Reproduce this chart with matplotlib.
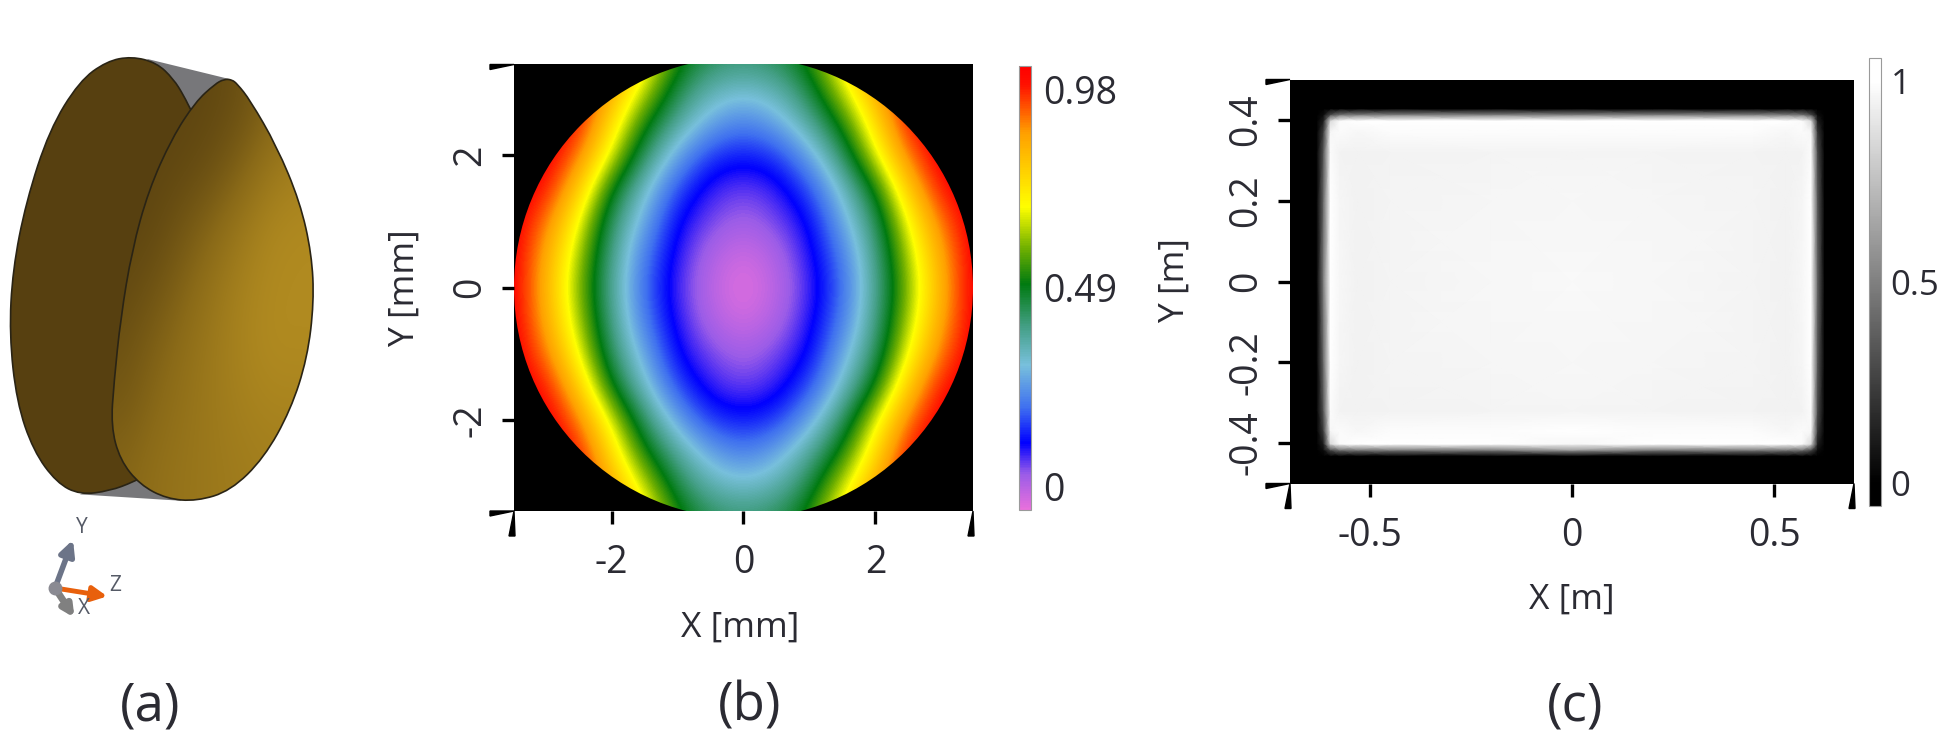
import numpy as np
import matplotlib
matplotlib.use("Agg")
import matplotlib.pyplot as plt
from matplotlib.colors import LinearSegmentedColormap, Normalize
from matplotlib.patches import Circle, PathPatch, Polygon
from matplotlib.path import Path

plt.rcParams['font.family'] = ['Open Sans', 'DejaVu Sans']

W, H = 1943, 731
TEXT = '#2b2b33'

# panel (a): outlines
dark_lobe = [(395, 66), (470, 82), (520, 122), (552, 165), (575, 205), (640, 300), (600, 600), (540, 900),
             (470, 1100), (400, 1130), (330, 1152), (240, 1162), (170, 1132),
             (100, 1052), (50, 930), (28, 760), (38, 600), (78, 430), (148, 250), (238, 128), (320, 78)]
gold_lobe = [(672, 123), (695, 124), (712, 135), (750, 175), (830, 290), (900, 430), (935, 560), (942, 680), (922, 820),
             (872, 950), (792, 1070), (692, 1152), (590, 1178), (500, 1172), (420, 1137), (360, 1075), (333, 990),
             (342, 880), (362, 720), (396, 550), (446, 400), (516, 270), (586, 180), (645, 135)]
gray_top = [(440, 72), (695, 124), (560, 215), (500, 110)]
gray_bottom = [(240, 1161), (400, 1090), (545, 1177)]
gold_shade = [[.05, .05, .05, .08, .18, .40, .55],
              [.05, .05, .08, .18, .40, .70, .85],
              [.05, .08, .25, .46, .72, .95, 1.0],
              [.10, .22, .42, .66, .88, 1.0, 1.0],
              [.20, .38, .56, .74, .90, 1.0, 1.0],
              [.30, .48, .62, .74, .84, .90, .90],
              [.45, .58, .66, .72, .78, .82, .82]]

# panel (b): values, y from -3.5 to 3.5, x from -3.5 to 3.5
map_x = [-3.5, -3, -2.5, -2, -1.5, -1, -.5, 0, .5, 1, 1.5, 2, 2.5, 3, 3.5]
map_y = [-3.5, -3, -2.5, -2, -1.5, -1, -.5, 0, .5, 1, 1.5, 2, 2.5, 3, 3.5]
map_values = [
    [1.03, 1.03, 1.03, .95, .74, .53, .44, .42, .44, .53, .74, .95, 1.03, 1.03, 1.03],
    [1.03, 1.03, 1.03, .85, .65, .45, .35, .32, .35, .45, .65, .85, 1.03, 1.03, 1.03],
    [1.03, 1.03, 1.00, .76, .52, .37, .265, .215, .265, .37, .52, .76, 1.00, 1.03, 1.03],
    [1.03, 1.03, .92, .66, .42, .26, .15, .125, .15, .26, .42, .66, .92, 1.03, 1.03],
    [1.03, 1.00, .80, .50, .32, .165, .08, .055, .08, .165, .32, .50, .80, 1.00, 1.03],
    [1.03, .92, .69, .42, .265, .105, .05, .02, .05, .105, .265, .42, .69, .92, 1.03],
    [1.03, .86, .63, .385, .21, .085, .01, -.03, .01, .085, .21, .385, .63, .86, 1.03],
    [1.03, .84, .60, .37, .19, .07, -.005, -.055, -.005, .07, .19, .37, .60, .84, 1.03],
    [1.03, .86, .63, .385, .21, .085, .01, -.03, .01, .085, .21, .385, .63, .86, 1.03],
    [1.03, .92, .69, .42, .265, .105, .05, .02, .05, .105, .265, .42, .69, .92, 1.03],
    [1.03, 1.00, .80, .50, .32, .165, .08, .055, .08, .165, .32, .50, .80, 1.00, 1.03],
    [1.03, 1.03, .92, .66, .42, .26, .15, .125, .15, .26, .42, .66, .92, 1.03, 1.03],
    [1.03, 1.03, 1.00, .76, .52, .37, .265, .215, .265, .37, .52, .76, 1.00, 1.03, 1.03],
    [1.03, 1.03, 1.03, .85, .65, .45, .35, .32, .35, .45, .65, .85, 1.03, 1.03, 1.03],
    [1.03, 1.03, 1.03, .95, .74, .53, .44, .42, .44, .53, .74, .95, 1.03, 1.03, 1.03],
]
map_ticks = [-2, 0, 2]
map_cbar_ticks = [0, .49, .98]
map_cbar_labels = ['0', '0.49', '0.98']

# panel (c): irradiance, on the uneven grid where it changes
irr_x = [-.7, -.632, -.615, -.598, -.575, -.53, -.45, -.2, 0, .2, .45, .53, .57, .592, .608, .625, .7]
irr_y = [-.5, -.432, -.417, -.402, -.37, -.32, -.2, 0, .2, .32, .37, .398, .413, .428, .5]
irr_values = [
    [0] * 17,
    [0] * 17,
    [0, 0, .05, .30, .45, .48, .50, .50, .62, .50, .50, .48, .45, .30, .05, 0, 0],
    [0, 0, .12, .85, .98, 1, 1, 1, .97, 1, 1, 1, .98, .85, .12, 0, 0],
    [0, 0, .25, .97, .98, .97, .985, .985, 1, .985, .985, .97, .98, .97, .22, 0, 0],
    [0, 0, .35, .98, .95, .945, .95, .955, .96, .955, .95, .945, .95, .98, .30, 0, 0],
    [0, 0, .42, 1, .965, .945, .955, .965, .97, .965, .955, .945, .965, 1, .36, 0, 0],
    [0, 0, .50, 1, .97, .945, .955, .97, .975, .97, .955, .945, .97, 1, .40, 0, 0],
    [0, 0, .42, 1, .965, .945, .955, .965, .97, .965, .955, .945, .965, 1, .36, 0, 0],
    [0, 0, .35, .98, .95, .945, .95, .955, .955, .955, .95, .945, .95, .98, .30, 0, 0],
    [0, 0, .25, .97, .98, .97, .985, .985, .985, .985, .985, .97, .98, .97, .22, 0, 0],
    [0, 0, .12, .85, .98, 1, 1, 1, 1, 1, 1, 1, .98, .85, .12, 0, 0],
    [0, 0, .05, .30, .45, .48, .50, .50, .50, .50, .50, .48, .45, .30, .05, 0, 0],
    [0] * 17,
    [0] * 17,
]
irr_x_ticks = [-.5, 0, .5]
irr_x_labels = ['-0.5', '0', '0.5']
irr_y_ticks = [-.4, -.2, 0, .2, .4]
irr_y_labels = ['-0.4', '-0.2', '0', '0.2', '0.4']
irr_cbar_ticks = [0, .5, 1]
irr_cbar_labels = ['0', '0.5', '1']


def axes_px(left, top, right, bottom):
    return fig.add_axes([left / W, 1 - bottom / H, (right - left) / W, (bottom - top) / H])


def fig_xy(x, y):
    return (x / W, 1 - y / H)


def smooth_path(points):
    # closed path of quadratic pieces through the midpoints of the outline
    pts = np.array(points, dtype=float)
    mids = (pts + np.roll(pts, -1, axis=0)) / 2
    verts = [mids[-1]]
    codes = [Path.MOVETO]
    for p, m in zip(pts, mids):
        verts += [p, m]
        codes += [Path.CURVE3, Path.CURVE3]
    return Path(verts, codes)


def limit_ticks(left, top, right, bottom):
    # the black wedges that mark the ends of each axis
    for y in (top, bottom):
        fig.add_artist(Polygon([fig_xy(left - 24, y), fig_xy(left - 24, y + 5), fig_xy(left, y)], closed=True,
                               color='black', transform=fig.transFigure))
    for x in (left, right):
        fig.add_artist(Polygon([fig_xy(x, bottom), fig_xy(x - 5, bottom + 25), fig_xy(x + 1, bottom + 25)], closed=True,
                               color='black', transform=fig.transFigure))


def style_axes(ax, xticks, xlabels, yticks, ylabels, xpad, ypad):
    for s in ax.spines.values():
        s.set_visible(False)
    ax.set_xticks(xticks)
    ax.set_xticklabels(xlabels, fontsize=27, color=TEXT)
    ax.set_yticks(yticks)
    ax.set_yticklabels(ylabels, fontsize=27, color=TEXT, rotation=90, va='center')
    ax.tick_params(axis='x', length=9, width=2.4, pad=xpad, color='black')
    ax.tick_params(axis='y', length=9, width=2.4, pad=ypad, color='black')


def style_cbar(cb, ticks, labels, pad, size=27):
    cb.set_ticks(ticks)
    cb.set_ticklabels(labels, fontsize=size, color=TEXT)
    cb.ax.tick_params(length=0, pad=pad)
    cb.outline.set_edgecolor('#9a9a9a')
    cb.outline.set_linewidth(0.8)


fig = plt.figure(figsize=(W / 100, H / 100), dpi=100, facecolor='white')

# (a) the lens body
ax_a = axes_px(0, 30, 340, 650)
ax_a.set_xlim(0, 1020)
ax_a.set_ylim(1550, 0)
ax_a.axis('off')
ax_a.add_patch(Polygon(gray_top, closed=True, color='#77777a', lw=0))
ax_a.add_patch(Polygon(gray_bottom, closed=True, color='#77777a', lw=0))
ax_a.add_patch(PathPatch(smooth_path(dark_lobe), facecolor='#574010', edgecolor='#2a2415', lw=1.2))
gold_cmap = LinearSegmentedColormap.from_list('gold', ['#5a4210', '#8a6a18', '#b08a20'])
shade = ax_a.imshow(gold_shade, extent=[330, 945, 1180, 120], cmap=gold_cmap, vmin=0, vmax=1,
                    interpolation='bicubic', aspect='auto', zorder=3)
gold_patch = PathPatch(smooth_path(gold_lobe), facecolor='none', edgecolor='#2a2415', lw=1.2, zorder=4)
ax_a.add_patch(gold_patch)
shade.set_clip_path(gold_patch)
ax_a.set_xlim(0, 1020)
ax_a.set_ylim(1550, 0)
ax_a.annotate('', xy=(222, 1268), xytext=(165, 1395),
              arrowprops=dict(arrowstyle='-|>', mutation_scale=22, color='#6c7488', lw=4))
ax_a.annotate('', xy=(330, 1417), xytext=(165, 1395),
              arrowprops=dict(arrowstyle='-|>', mutation_scale=22, color='#e8600c', lw=3.5))
ax_a.annotate('', xy=(228, 1475), xytext=(165, 1395),
              arrowprops=dict(arrowstyle='-|>', mutation_scale=16, color='#808080', lw=5))
ax_a.plot([165], [1395], 'o', color='#8a8a92', ms=9, zorder=5)
for t, x, y in (('Y', 246, 1243), ('Z', 346, 1388), ('X', 252, 1445)):
    ax_a.text(x, y, t, fontsize=15, color='#555a66', ha='center', va='center')

# (b) the rainbow map
left, top, right, bottom = 514, 64.5, 973, 511
ax_b = axes_px(left, top, right, bottom)
ax_b.set_facecolor('black')
rainbow = LinearSegmentedColormap.from_list('rainbow_map', [
    (0.000, '#e870dc'), (.080, '#9a5ce8'), (.150, '#0000ff'), (.230, '#3f70f0'), (.326, '#78c0dc'),
    (.410, '#45a088'), (.509, '#007a10'), (.590, '#70b000'), (.683, '#ffff00'), (.850, '#ffa000'),
    (.960, '#ff1000'), (1.000, '#ff0000')])
norm_b = Normalize(-.057, 1.037)
im_b = ax_b.imshow(map_values, extent=[-3.75, 3.75, -3.75, 3.75], origin='lower', cmap=rainbow, norm=norm_b,
                   interpolation='bicubic', interpolation_stage='data', aspect='auto')
lens = Circle((0, 0), 3.48, transform=ax_b.transData, facecolor='none', edgecolor='none')
ax_b.add_patch(lens)
im_b.set_clip_path(lens)
ax_b.set_xlim(-3.48, 3.48)
ax_b.set_ylim(-3.37, 3.37)
style_axes(ax_b, map_ticks, ['-2', '0', '2'], map_ticks, ['-2', '0', '2'], 15, 9)
limit_ticks(left, top, right, bottom)
cax_b = axes_px(1019, 66, 1031, 510)
cb_b = fig.colorbar(im_b, cax=cax_b)
style_cbar(cb_b, map_cbar_ticks, map_cbar_labels, 9)
fig.text(740 / W, 1 - 628 / H, 'X [mm]', fontsize=25.5, color=TEXT, ha='center', va='center')
fig.text(405 / W, 1 - 288 / H, 'Y [mm]', fontsize=25.5, color=TEXT, ha='center', va='center', rotation=90)

# (c) the uniform rectangle
left, top, right, bottom = 1290, 79.5, 1854, 483.5
ax_c = axes_px(left, top, right, bottom)
ax_c.set_facecolor('black')
gray = LinearSegmentedColormap.from_list('gray_map', [(0, '#000000'), (.051, '#000000'), (.948, '#ffffff'), (1, '#ffffff')])
norm_c = Normalize(-.057, 1.058)
im_c = ax_c.pcolormesh(irr_x, irr_y, irr_values, cmap=gray, norm=norm_c, shading='gouraud')
ax_c.set_xlim(-.698, .698)
ax_c.set_ylim(-.5, .5)
style_axes(ax_c, irr_x_ticks, irr_x_labels, irr_y_ticks, irr_y_labels, 15, 9)
limit_ticks(left, top, right, bottom)
cax_c = axes_px(1869, 58, 1881, 506)
cb_c = fig.colorbar(im_c, cax=cax_c)
style_cbar(cb_c, irr_cbar_ticks, irr_cbar_labels, 7, size=25)
fig.text(1572 / W, 1 - 600 / H, 'X [m]', fontsize=25.5, color=TEXT, ha='center', va='center')
fig.text(1175 / W, 1 - 281 / H, 'Y [m]', fontsize=25.5, color=TEXT, ha='center', va='center', rotation=90)

for label, x in (('(a)', 150), ('(b)', 750), ('(c)', 1575)):
    fig.text(x / W, 1 - 707 / H, label, fontsize=38, color=TEXT, ha='center', va='center')

fig.savefig('out.png', dpi=100)
